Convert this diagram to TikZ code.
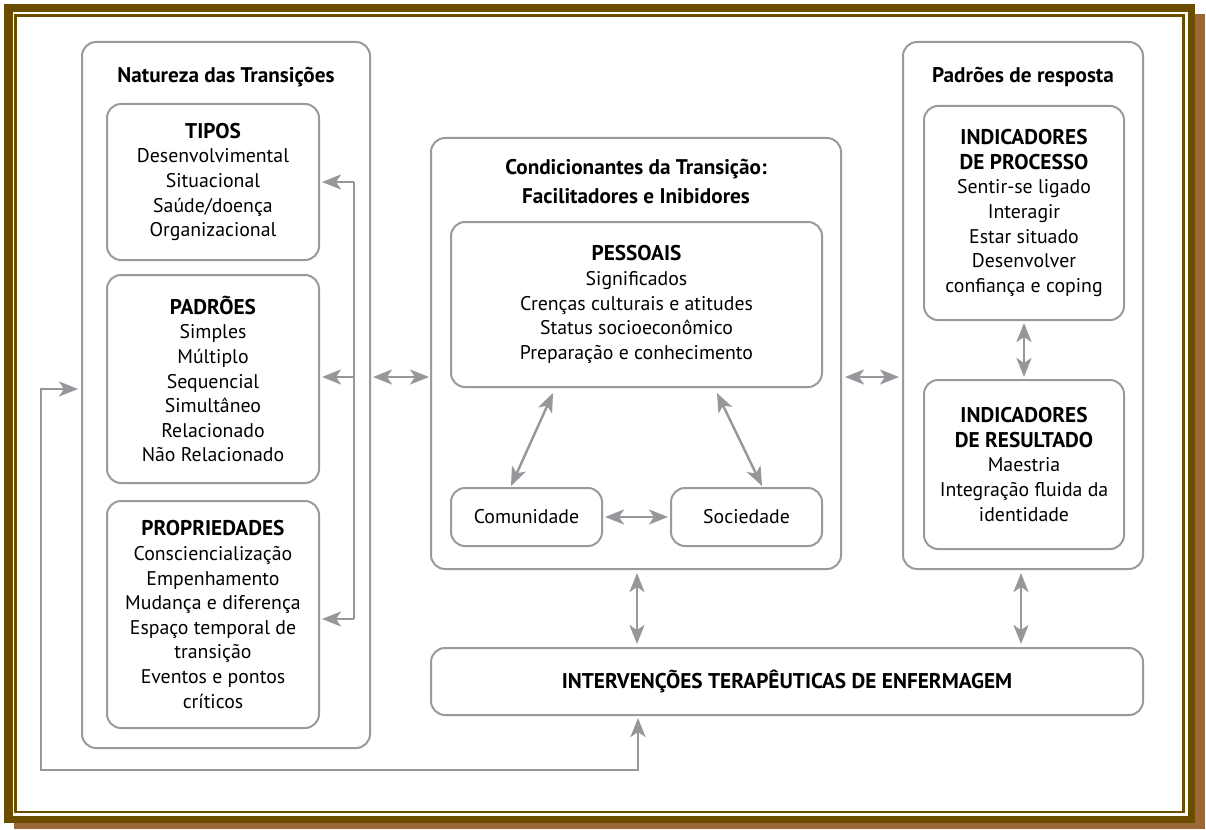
\documentclass[tikz,border=0pt]{standalone}
\usepackage{fontspec}
\setmainfont{PT Sans}
\usetikzlibrary{arrows.meta,calc}
\definecolor{frameDark}{HTML}{6B4D00}
\definecolor{frameShadow}{HTML}{9C6838}
\definecolor{lineGray}{HTML}{9A9A9A}
\definecolor{arrowGray}{HTML}{96979B}
\newcommand{\hd}[1]{{\fontsize{21.3}{24.6}\selectfont\bfseries #1}}
\begin{document}
\begin{tikzpicture}[x=1pt,y=-1pt,
  txt/.style={font=\fontsize{19.8}{24.6}\selectfont, align=center, inner sep=0pt},
  box/.style={txt, draw=lineGray, line width=2pt, rounded corners=14pt, fill=white},
  ttl/.style={txt, font=\fontsize{21.2}{29}\selectfont\bfseries},
  tipA/.tip={Stealth[length=19pt,width=15pt,inset=5pt]},
  garr/.style={draw=arrowGray, line width=2.4pt, -tipA},
  gdbl/.style={draw=arrowGray, line width=2.4pt, tipA-tipA}]
\useasboundingbox (0,0) rectangle (1206,829);
% frame
\fill[frameShadow] (14,14) rectangle (1205,829);
\fill[frameDark] (4,4) rectangle (1195,823);
\fill[white] (12.5,12.5) rectangle (1187.5,815.5);
\draw[frameDark, line width=2.2pt] (15.5,15.5) rectangle (1183.5,812);

% left container
\node[box, minimum width=288, minimum height=706] (nat) at (226,395) {};
\node[ttl] (natT) at (226,77) {Natureza das Transições};
\node[box, minimum width=212, minimum height=156] (tipos) at (213,182) {\hd{TIPOS}\\Desenvolvimental\\Situacional\\Saúde/doença\\Organizacional};
\node[box, minimum width=212, minimum height=208] (padr) at (213,379) {\hd{PADRÕES}\\Simples\\Múltiplo\\Sequencial\\Simultâneo\\Relacionado\\Não Relacionado};
\node[box, minimum width=212, minimum height=227] (prop) at (213,614.5) {\hd{PROPRIEDADES}\\Consciencialização\\Empenhamento\\Mudança e diferença\\Espaço temporal de\\transição\\Eventos e pontos\\críticos};

% middle container
\node[box, minimum width=410, minimum height=431] (mid) at (636,353.5) {};
\node[ttl] (midT) at (636,181) {Condicionantes da Transição:\\Facilitadores e Inibidores};
\node[box, minimum width=371, minimum height=165] (pess) at (636.5,304.5) {\hd{PESSOAIS}\\Significados\\Crenças culturais e atitudes\\Status socioeconômico\\Preparação e conhecimento};
\node[box, minimum width=151, minimum height=58] (com) at (526.5,517) {Comunidade};
\node[box, minimum width=151, minimum height=58] (soc) at (746.5,517) {Sociedade};

% right container
\node[box, minimum width=240, minimum height=527] (resp) at (1023,305.5) {};
\node[ttl] (respT) at (1023,77) {Padrões de resposta};
\node[box, minimum width=200, minimum height=214] (proc) at (1024,213) {\hd{INDICADORES}\\\hd{DE PROCESSO}\\Sentir-se ligado\\Interagir\\Estar situado\\Desenvolver\\confiança e coping};
\node[box, minimum width=200, minimum height=169] (res) at (1024,464.5) {\hd{INDICADORES}\\\hd{DE RESULTADO}\\Maestria\\Integração fluida da\\identidade};

% bottom
\node[box, minimum width=712, minimum height=67] (interv) at (787,681.5) {\hd{INTERVENÇÕES TERAPÊUTICAS DE ENFERMAGEM}};

% connectors
\coordinate (b1) at (354,182);
\coordinate (b2) at (354,377);
\coordinate (b3) at (354,619);
\draw[draw=arrowGray, line width=2.4pt] (b1) -- (b3);
\draw[garr, shorten >=2pt] (b1) -- (tipos.east |- b1);
\draw[garr, shorten >=2pt] (b2) -- (padr.east |- b2);
\draw[garr, shorten >=2pt] (b3) -- (prop.east |- b3);

\coordinate (y377) at (0,377);
\draw[gdbl, shorten <=2pt, shorten >=1pt] (nat.east |- y377) -- (mid.west |- y377);
\draw[gdbl, shorten <=3pt, shorten >=3pt] (mid.east |- y377) -- (resp.west |- y377);

\draw[gdbl] ($(pess.south west)+(103,5)$) -- ($(com.north west)+(61,-1)$);
\draw[gdbl] ($(pess.south west)+(267,5)$) -- ($(soc.north west)+(92,-1)$);
\draw[gdbl, shorten <=2pt, shorten >=2pt] (com.east) -- (soc.west);

\draw[gdbl, shorten <=2pt, shorten >=2pt] (proc.south) -- (res.north);
\draw[gdbl] ($(mid.south west)+(207,3)$) -- ($(interv.north west)+(207,-3)$);
\draw[gdbl] ($(resp.south west)+(119,3)$) -- ($(interv.north west)+(591,-3)$);

\coordinate (fb1) at (41,389);
\coordinate (fb2) at (41,770);
\coordinate (fb3) at (638,770);
\draw[gdbl, shorten <=3pt, shorten >=2pt] (nat.west |- fb1) -- (fb1) -- (fb2) -- (fb3) -- (fb3 |- interv.south);
\end{tikzpicture}
\end{document}
